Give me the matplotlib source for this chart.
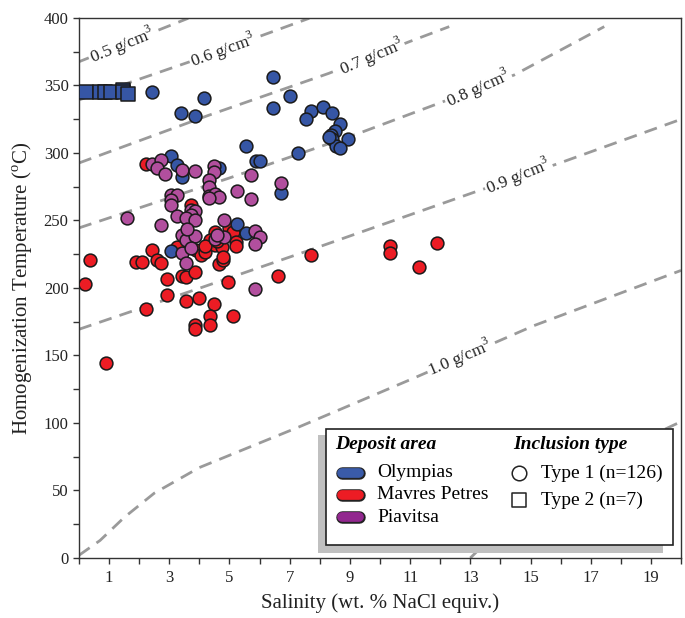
import matplotlib
matplotlib.use("Agg")
import matplotlib.pyplot as plt
import matplotlib.patheffects as pe
from matplotlib.patches import Rectangle

plt.rcParams["font.family"] = ["Liberation Serif", "DejaVu Serif"]
plt.rcParams["mathtext.fontset"] = "custom"
plt.rcParams["mathtext.rm"] = "Liberation Serif"

# Fluid inclusion data: salinity (wt. % NaCl equiv.) and Th (deg C)
olympias_sal = [2.42, 4.15, 3.39, 3.86, 6.45, 7.0, 6.45, 7.72, 7.55, 8.1,
                8.4, 8.66, 8.52, 8.38, 8.41, 8.93, 8.55, 8.68, 5.56, 7.27,
                5.87, 6.0, 4.65, 6.72, 3.07, 3.24, 3.41, 5.26, 5.56, 3.07,
                8.3]
olympias_th = [345, 340.5, 329.4, 327.4, 356, 342, 333.6, 331, 325, 334.3,
               329.9, 321.3, 316.3, 313.3, 310.1, 310.4, 305.2, 303.5, 305.5, 299.8,
               294.3, 294, 288.7, 270.6, 298, 291, 282, 247.4, 240.5, 227.4,
               312]

mavres_sal = [2.24, 3.71, 2.41, 0.36, 1.91, 2.08, 2.58, 2.74, 0.19, 2.91,
              3.41, 3.55, 3.85, 2.91, 2.24, 3.55, 3.85, 3.85, 0.9, 3.99,
              4.49, 4.34, 4.34, 5.1, 4.95, 4.65, 4.79, 6.6, 7.72, 10.34,
              10.34, 11.31, 11.9, 3.24, 3.9, 4.04, 4.18, 4.34, 4.51, 4.34,
              4.51, 4.74, 4.98, 5.12, 5.23, 5.23, 4.79, 4.6, 4.2]
mavres_th = [291.5, 261.5, 228.5, 221, 219, 219, 220.7, 218.7, 203, 206.7,
             209, 208.4, 211.8, 194.5, 184.4, 190, 172.6, 169.4, 144.2, 192.4,
             188.1, 179.5, 172.6, 179.3, 204.2, 217.8, 220.7, 209.1, 224.4, 231.1,
             226.1, 215.8, 233.6, 230.6, 228, 224.4, 226.9, 233, 241.5, 235.5,
             231.8, 230.6, 244.2, 241.2, 234.3, 231, 223.2, 235, 231]

piavitsa_sal = [2.41, 2.74, 2.58, 2.87, 3.41, 3.87, 4.49, 4.49, 4.32, 4.32,
                4.32, 4.51, 4.65, 4.32, 5.7, 5.26, 5.7, 6.72, 3.07, 3.24,
                3.07, 3.07, 3.71, 3.85, 3.71, 3.24, 3.55, 3.85, 1.58, 2.74,
                3.41, 3.57, 3.85, 3.41, 3.71, 3.55, 4.81, 4.51, 4.81, 5.86,
                6.0, 5.86, 5.84, 3.6, 4.6]
piavitsa_th = [292, 294.8, 288.6, 284.4, 287.4, 286.5, 290.3, 286, 280, 274.5,
               268.5, 269.5, 267.2, 266.5, 283.7, 272, 265.7, 277.5, 269, 269,
               265, 261.5, 258, 257, 254, 253, 251.5, 250, 252, 246.7,
               239.5, 235.8, 238.3, 225.7, 229.4, 218.8, 250, 236.3, 238, 242.5,
               237.6, 232.6, 199, 244, 239]

# Type 2 inclusions (all Olympias)
type2_sal = [0.24, 0.7, 0.85, 1.05, 1.45, 1.45, 1.63]
type2_th = [345.5, 345.5, 345.5, 345.5, 347, 345, 344]

# Isochores (salinity, temperature) for each density
isochores = {
    "0.5": ([0, 1.8, 3.63], [367.6, 383.6, 399.8]),
    "0.6": ([0, 3.8, 7.65], [339.3, 368.5, 399.8]),
    "0.7": ([0, 4.28, 8.3, 10.98, 12.3], [292.6, 327.7, 359, 382.5, 393.6]),
    "0.8": ([0, 5.0, 9.3, 14.46, 17.45], [244.5, 281.5, 314.6, 357.8, 393.6]),
    "0.9": ([0, 4.0, 7.66, 13.19, 15.95, 19.93], [169.4, 199.8, 228, 271.4, 292.4, 324.4]),
    "1.0": ([0, 0.7, 1.5, 2.5, 4.0, 7.3, 11.1, 15.1, 20.0], [2, 13, 30, 48, 67, 97, 133, 172, 213]),
    "1.1": ([13.0, 14.0, 16.0, 18.0, 20.0], [0, 22, 55, 80, 101]),
}
# label position (salinity, temperature) and rotation
iso_labels = {
    "0.5": (1.43, 380, 22),
    "0.6": (4.8, 376, 20),
    "0.7": (9.72, 371, 23),
    "0.8": (13.27, 348, 24),
    "0.9": (14.6, 283, 22),
    "1.0": (12.67, 148, 23),
}

fig = plt.figure(figsize=(6.85, 6.18), dpi=100)
ax = fig.add_axes([0.1153, 0.0971, 0.8789, 0.8738])

for key, (xs, ys) in isochores.items():
    ax.plot(xs, ys, color="#9a9a9a", lw=2, linestyle=(0, (4.7, 3)), zorder=1)
for key, (lx, ly, rot) in iso_labels.items():
    ax.text(lx, ly, key + " g/cm$^3$", fontsize=12.5, rotation=rot,
            rotation_mode="anchor", ha="center", va="center", color="#222222",
            bbox=dict(facecolor="white", edgecolor="none", pad=1), zorder=2)

marker_kw = dict(edgecolors="#1a1a1a", linewidths=1.1, zorder=3)
ax.scatter(mavres_sal, mavres_th, s=85, color="#ec1c24", marker="o", **marker_kw)
ax.scatter(olympias_sal, olympias_th, s=85, color="#3656a5", marker="o", **marker_kw)
ax.scatter(piavitsa_sal, piavitsa_th, s=85, color="#b24f9e", marker="o", **marker_kw)
ax.scatter(type2_sal, type2_th, s=95, color="#3656a5", marker="s", **marker_kw)

ax.set_xlim(0, 20)
ax.set_ylim(0, 400)
ax.set_xticks(range(1, 20, 2))
ax.set_xticks(range(0, 21), minor=True)
ax.set_yticks(range(0, 401, 50))
ax.set_yticks(range(0, 401, 25), minor=True)
ax.tick_params(which="both", direction="out", length=4, width=1, colors="#333333",
               labelsize=12, labelcolor="#222222")
ax.tick_params(axis="x", pad=5)
for sp in ax.spines.values():
    sp.set_color("#333333")
    sp.set_linewidth(1)

ax.set_xlabel("Salinity (wt. % NaCl equiv.)", fontsize=15, color="#222222", labelpad=5)
ax.set_ylabel(r"Homogenization Temperature ($^{\rm o}$C)", fontsize=15,
              color="#222222", labelpad=6)

# legend box with drop shadow
T = ax.transAxes
ax.add_patch(Rectangle((0.3975, 0.0087), 0.5725, 0.219, transform=T,
                       facecolor="#c0c0c0", edgecolor="none", zorder=4))
ax.add_patch(Rectangle((0.410, 0.0241), 0.576, 0.2139, transform=T,
                       facecolor="white", edgecolor="#222222", lw=1.2, zorder=5))
ax.text(0.4252, 0.2093, "Deposit area", transform=T, fontsize=14,
        fontweight="bold", style="italic", va="center", zorder=6)
ax.text(0.7204, 0.2093, "Inclusion type", transform=T, fontsize=14,
        fontweight="bold", style="italic", va="center", zorder=6)

areas = ["Olympias", "Mavres Petres", "Piavitsa"]
area_colors = ["#3a5ba9", "#ed1c24", "#92278f"]
area_y = [0.1574, 0.1167, 0.0759]
for name, col, yy in zip(areas, area_colors, area_y):
    ax.plot([0.4365, 0.4645], [yy, yy], transform=T, color=col, lw=7,
            solid_capstyle="round", zorder=6,
            path_effects=[pe.Stroke(linewidth=9, foreground="#222222"), pe.Normal()])
    ax.text(0.495, yy, name, transform=T, fontsize=14, va="center", zorder=6)

types = ["Type 1 (n=126)", "Type 2 (n=7)"]
type_markers = ["o", "s"]
type_y = [0.1574, 0.1074]
for name, mk, yy in zip(types, type_markers, type_y):
    ax.scatter([0.7309], [yy], transform=T, marker=mk, s=110, facecolor="white",
               edgecolors="#222222", linewidths=1.1, zorder=6, clip_on=False)
    ax.text(0.7674, yy, name, transform=T, fontsize=14, va="center", zorder=6)

fig.savefig("out.png", dpi=100)
